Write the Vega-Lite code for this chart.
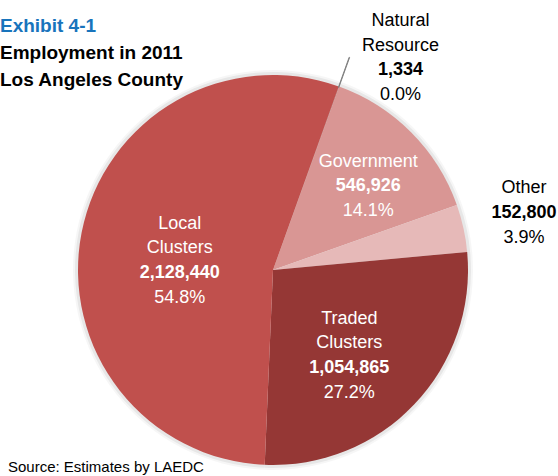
{
  "$schema": "https://vega.github.io/schema/vega-lite/v6.json",
  "background": "white",
  "padding": {"left": 0, "top": 6, "right": 0, "bottom": 0},
  "autosize": {"type": "pad"},
  "config": {"view": {"stroke": null}, "concat": {"spacing": 0}},
  "title": {
    "text": "Exhibit 4-1",
    "subtitle": ["Employment in 2011", "Los Angeles County"],
    "anchor": "start",
    "frame": "group",
    "offset": -83,
    "font": "Liberation Sans",
    "fontSize": 19,
    "fontWeight": "bold",
    "color": "#1874BC",
    "subtitleFont": "Liberation Sans",
    "subtitleFontSize": 19,
    "subtitleFontWeight": "bold",
    "subtitleColor": "#000000",
    "subtitleLineHeight": 27,
    "subtitlePadding": 8
  },
  "vconcat": [
    {
      "width": 546,
      "height": 390,
      "title": {
        "text": "Source: Estimates by LAEDC",
        "orient": "bottom",
        "anchor": "start",
        "frame": "group",
        "offset": -36,
        "dx": 8,
        "font": "Liberation Sans",
        "fontSize": 15,
        "fontWeight": "normal",
        "color": "#000000"
      },
      "data": {
        "values": [
          {"name": "Natural Resource", "label": "Natural\nResource", "value": 1334, "share": 0.0, "ord": 1},
          {"name": "Government", "label": "Government", "value": 546926, "share": 0.141, "ord": 2},
          {"name": "Other", "label": "Other", "value": 152800, "share": 0.039, "ord": 3},
          {"name": "Traded Clusters", "label": "Traded\nClusters", "value": 1054865, "share": 0.272, "ord": 4},
          {"name": "Local Clusters", "label": "Local\nClusters", "value": 2128440, "share": 0.548, "ord": 5}
        ]
      },
      "encoding": {
        "theta": {"field": "value", "type": "quantitative", "stack": true, "scale": {"range": [0.3438, 6.627]}},
        "order": {"field": "ord", "type": "quantitative"},
        "detail": {"field": "name", "type": "nominal"}
      },
      "layer": [
        {"mark": {"type": "arc", "outerRadius": 200, "color": "#000000", "opacity": 0.035, "strokeWidth": 0}},
        {"mark": {"type": "arc", "outerRadius": 198, "color": "#000000", "opacity": 0.06, "strokeWidth": 0}},
        {
          "mark": {"type": "arc", "outerRadius": 195, "strokeWidth": 0},
          "encoding": {
            "color": {
              "field": "name", "type": "nominal", "legend": null,
              "scale": {
                "domain": ["Natural Resource", "Government", "Other", "Traded Clusters", "Local Clusters"],
                "range": ["#7F2A28", "#D99694", "#E6B9B8", "#953735", "#C0504D"]
              }
            }
          }
        },
        {
          "mark": {"type": "arc", "innerRadius": 194, "outerRadius": 226, "fill": "transparent", "stroke": "#808080", "strokeWidth": 1},
          "encoding": {"opacity": {"condition": {"test": "datum.name === 'Natural Resource'", "value": 1}, "value": 0}}
        },

        {"mark": {"type": "text", "radius": 226, "dx": 51, "dy": -31, "baseline": "alphabetic", "lineBreak": "\n", "lineHeight": 24.5, "align": "center", "font": "Liberation Sans", "color": "#000000"},
         "encoding": {"text": {"field": "label", "type": "nominal"}, "size": {"condition": {"test": "datum.name === 'Natural Resource'", "value": 18}, "value": 0}, "opacity": {"condition": {"test": "datum.name === 'Natural Resource'", "value": 1}, "value": 0}}},
        {"mark": {"type": "text", "radius": 226, "dx": 51, "dy": 18, "baseline": "alphabetic", "align": "center", "font": "Liberation Sans", "fontWeight": "bold", "color": "#000000"},
         "encoding": {"text": {"field": "value", "type": "quantitative", "format": ","}, "size": {"condition": {"test": "datum.name === 'Natural Resource'", "value": 18}, "value": 0}, "opacity": {"condition": {"test": "datum.name === 'Natural Resource'", "value": 1}, "value": 0}}},
        {"mark": {"type": "text", "radius": 226, "dx": 51, "dy": 43, "baseline": "alphabetic", "align": "center", "font": "Liberation Sans", "color": "#000000"},
         "encoding": {"text": {"field": "share", "type": "quantitative", "format": ".1%"}, "size": {"condition": {"test": "datum.name === 'Natural Resource'", "value": 18}, "value": 0}, "opacity": {"condition": {"test": "datum.name === 'Natural Resource'", "value": 1}, "value": 0}}},

        {"mark": {"type": "text", "radius": 123, "dx": 8, "dy": -16.5, "baseline": "alphabetic", "lineBreak": "\n", "lineHeight": 24.5, "align": "center", "font": "Liberation Sans", "color": "#FFFFFF"},
         "encoding": {"text": {"field": "label", "type": "nominal"}, "size": {"condition": {"test": "datum.name === 'Government'", "value": 18}, "value": 0}, "opacity": {"condition": {"test": "datum.name === 'Government'", "value": 1}, "value": 0}}},
        {"mark": {"type": "text", "radius": 123, "dx": 8, "dy": 8, "baseline": "alphabetic", "align": "center", "font": "Liberation Sans", "fontWeight": "bold", "color": "#FFFFFF"},
         "encoding": {"text": {"field": "value", "type": "quantitative", "format": ","}, "size": {"condition": {"test": "datum.name === 'Government'", "value": 18}, "value": 0}, "opacity": {"condition": {"test": "datum.name === 'Government'", "value": 1}, "value": 0}}},
        {"mark": {"type": "text", "radius": 123, "dx": 8, "dy": 33, "baseline": "alphabetic", "align": "center", "font": "Liberation Sans", "color": "#FFFFFF"},
         "encoding": {"text": {"field": "share", "type": "quantitative", "format": ".1%"}, "size": {"condition": {"test": "datum.name === 'Government'", "value": 18}, "value": 0}, "opacity": {"condition": {"test": "datum.name === 'Government'", "value": 1}, "value": 0}}},

        {"mark": {"type": "text", "radius": 257, "dx": 0, "dy": -21.5, "baseline": "alphabetic", "lineBreak": "\n", "lineHeight": 24.5, "align": "center", "font": "Liberation Sans", "color": "#000000"},
         "encoding": {"text": {"field": "label", "type": "nominal"}, "size": {"condition": {"test": "datum.name === 'Other'", "value": 18}, "value": 0}, "opacity": {"condition": {"test": "datum.name === 'Other'", "value": 1}, "value": 0}}},
        {"mark": {"type": "text", "radius": 257, "dx": 0, "dy": 3, "baseline": "alphabetic", "align": "center", "font": "Liberation Sans", "fontWeight": "bold", "color": "#000000"},
         "encoding": {"text": {"field": "value", "type": "quantitative", "format": ","}, "size": {"condition": {"test": "datum.name === 'Other'", "value": 18}, "value": 0}, "opacity": {"condition": {"test": "datum.name === 'Other'", "value": 1}, "value": 0}}},
        {"mark": {"type": "text", "radius": 257, "dx": 0, "dy": 28, "baseline": "alphabetic", "align": "center", "font": "Liberation Sans", "color": "#000000"},
         "encoding": {"text": {"field": "share", "type": "quantitative", "format": ".1%"}, "size": {"condition": {"test": "datum.name === 'Other'", "value": 18}, "value": 0}, "opacity": {"condition": {"test": "datum.name === 'Other'", "value": 1}, "value": 0}}},

        {"mark": {"type": "text", "radius": 126, "dx": -15, "dy": -33, "baseline": "alphabetic", "lineBreak": "\n", "lineHeight": 24.5, "align": "center", "font": "Liberation Sans", "color": "#FFFFFF"},
         "encoding": {"text": {"field": "label", "type": "nominal"}, "size": {"condition": {"test": "datum.name === 'Traded Clusters'", "value": 18}, "value": 0}, "opacity": {"condition": {"test": "datum.name === 'Traded Clusters'", "value": 1}, "value": 0}}},
        {"mark": {"type": "text", "radius": 126, "dx": -15, "dy": 16, "baseline": "alphabetic", "align": "center", "font": "Liberation Sans", "fontWeight": "bold", "color": "#FFFFFF"},
         "encoding": {"text": {"field": "value", "type": "quantitative", "format": ","}, "size": {"condition": {"test": "datum.name === 'Traded Clusters'", "value": 18}, "value": 0}, "opacity": {"condition": {"test": "datum.name === 'Traded Clusters'", "value": 1}, "value": 0}}},
        {"mark": {"type": "text", "radius": 126, "dx": -15, "dy": 41, "baseline": "alphabetic", "align": "center", "font": "Liberation Sans", "color": "#FFFFFF"},
         "encoding": {"text": {"field": "share", "type": "quantitative", "format": ".1%"}, "size": {"condition": {"test": "datum.name === 'Traded Clusters'", "value": 18}, "value": 0}, "opacity": {"condition": {"test": "datum.name === 'Traded Clusters'", "value": 1}, "value": 0}}},

        {"mark": {"type": "text", "radius": 90, "dx": -5, "dy": -24, "baseline": "alphabetic", "lineBreak": "\n", "lineHeight": 24.5, "align": "center", "font": "Liberation Sans", "color": "#FFFFFF"},
         "encoding": {"text": {"field": "label", "type": "nominal"}, "size": {"condition": {"test": "datum.name === 'Local Clusters'", "value": 18}, "value": 0}, "opacity": {"condition": {"test": "datum.name === 'Local Clusters'", "value": 1}, "value": 0}}},
        {"mark": {"type": "text", "radius": 90, "dx": -5, "dy": 25, "baseline": "alphabetic", "align": "center", "font": "Liberation Sans", "fontWeight": "bold", "color": "#FFFFFF"},
         "encoding": {"text": {"field": "value", "type": "quantitative", "format": ","}, "size": {"condition": {"test": "datum.name === 'Local Clusters'", "value": 18}, "value": 0}, "opacity": {"condition": {"test": "datum.name === 'Local Clusters'", "value": 1}, "value": 0}}},
        {"mark": {"type": "text", "radius": 90, "dx": -5, "dy": 50, "baseline": "alphabetic", "align": "center", "font": "Liberation Sans", "color": "#FFFFFF"},
         "encoding": {"text": {"field": "share", "type": "quantitative", "format": ".1%"}, "size": {"condition": {"test": "datum.name === 'Local Clusters'", "value": 18}, "value": 0}, "opacity": {"condition": {"test": "datum.name === 'Local Clusters'", "value": 1}, "value": 0}}}
      ]
    }
  ]
}
